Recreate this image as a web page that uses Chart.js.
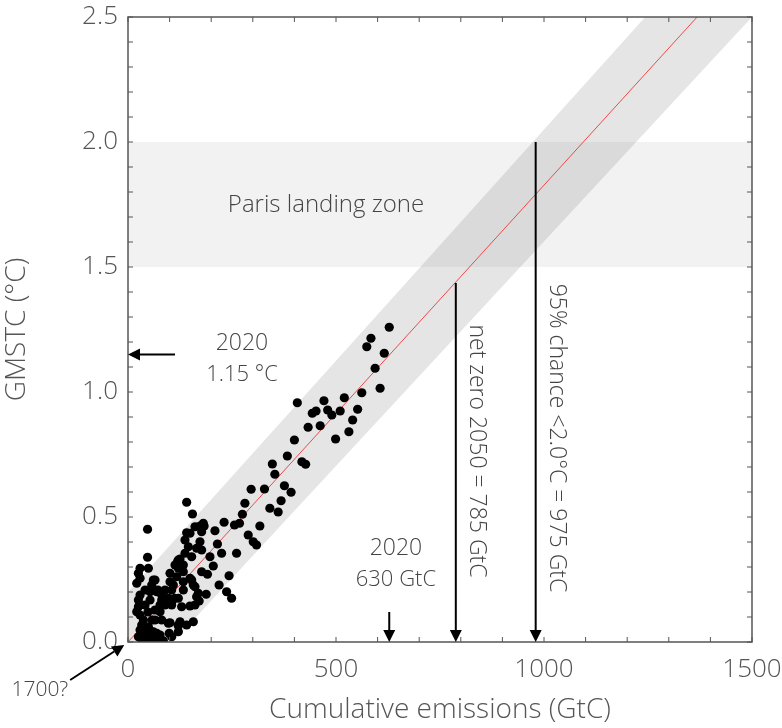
<!DOCTYPE html>
<html>
<head>
<meta charset="utf-8">
<script src="https://cdn.jsdelivr.net/npm/chart.js@4"></script>
<style>
  body { margin: 0; background: #fff; }
  #wrap { width: 782px; height: 728px; position: relative; }
</style>
</head>
<body>
<div id="wrap"><canvas id="myChart"></canvas></div>
<script>
// observed points: cumulative emissions (GtC) vs warming (°C)
const emissions = [628, 584, 574, 616, 594, 562, 606, 552, 520, 510, 540, 531, 499, 490, 480, 471, 452, 443, 462, 433,
  407, 400, 383, 418, 427, 347, 353, 376, 392, 328, 296, 368, 361, 341, 281, 275, 317, 256, 268, 231,
  209, 183, 177, 289, 301, 309, 215, 177, 225, 261, 197, 205, 191, 243, 219, 237, 249, 188, 141, 155,
  47, 47, 141, 149, 161, 173, 181, 137, 145, 137, 153, 165, 173, 121, 113, 133, 171, 161, 149, 129,
  105, 121, 97, 105, 101, 117, 125, 119, 125, 161, 153, 165, 125, 101, 121, 99, 77, 69, 61, 53,
  33, 61, 49, 37, 121, 133, 101, 65, 57, 41, 29, 25, 25, 21, 29, 37, 33, 29, 25, 37,
  49, 57, 65, 73, 85, 105, 65, 81, 97, 121, 77, 89, 105, 113, 81, 81, 69, 89, 109, 133,
  149, 157, 169, 157, 141, 121, 133, 177, 21, 29, 25, 29, 49, 61, 53,
  53, 65, 48, 77, 58, 41, 72];
const temps = [1.259, 1.215, 1.181, 1.155, 1.095, 0.997, 1.015, 0.931, 0.977, 0.924, 0.888, 0.841, 0.812, 0.908, 0.928, 0.965, 0.924, 0.915, 0.865, 0.859,
  0.957, 0.808, 0.744, 0.721, 0.711, 0.712, 0.671, 0.625, 0.599, 0.612, 0.611, 0.565, 0.520, 0.535, 0.555, 0.511, 0.464, 0.468, 0.475, 0.479,
  0.445, 0.464, 0.441, 0.428, 0.401, 0.388, 0.392, 0.368, 0.355, 0.355, 0.341, 0.304, 0.271, 0.265, 0.228, 0.201, 0.175, 0.191, 0.559, 0.512,
  0.451, 0.339, 0.437, 0.435, 0.461, 0.464, 0.475, 0.408, 0.381, 0.355, 0.341, 0.375, 0.401, 0.328, 0.308, 0.308, 0.164, 0.148, 0.144, 0.141,
  0.148, 0.175, 0.175, 0.208, 0.241, 0.261, 0.299, 0.321, 0.332, 0.221, 0.248, 0.181, 0.081, 0.077, 0.065, 0.035, 0.028, 0.035, 0.021, 0.008,
  0.008, 0.041, 0.061, 0.041, 0.295, 0.281, 0.275, 0.248, 0.228, 0.208, 0.188, 0.168, 0.141, 0.121, 0.108, 0.088, 0.068, 0.048, 0.021, 0.008,
  0.021, 0.041, 0.008, 0.028, 0.005, 0.021, 0.088, 0.088, 0.075, 0.068, 0.121, 0.148, 0.161, 0.175, 0.168, 0.188, 0.201, 0.208, 0.228, 0.241,
  0.255, 0.228, 0.195, 0.081, 0.068, 0.041, 0.208, 0.281, 0.235, 0.255, 0.275, 0.295, 0.295, 0.248, 0.201,
  0.168, 0.128, 0.120, 0.148, 0.088, 0.148, 0.208];

// best fit line and its uncertainty band
const trendX = [0, 1500];
const trendY = [0, 2.741];
const bandX = [0, 1500];
const bandUpper = [0.2, 2.975];
const bandLower = [-0.194, 2.5];

// Paris landing zone
const parisX = [0, 1500];
const parisLow = [1.5, 1.5];
const parisHigh = [2.0, 2.0];

// axis ticks
const xTicks = [0, 500, 1000, 1500];
const yTicks = [0, 0.5, 1.0, 1.5, 2.0, 2.5];

// arrows: start -> tip, in data units
const arrowFromX = [628, 788, 980, 113, -139];
const arrowFromY = [0.12, 1.436, 2.0, 1.15, -0.152];
const arrowToX = [628, 788, 980, 0, -9];
const arrowToY = [0.0, 0.0, 0.0, 1.15, -0.012];

// annotation texts
const noteText = ['Paris landing zone', '2020', '1.15 °C', '2020', '630 GtC',
  'net zero 2050 = 785 GtC', '95% chance <2.0°C = 975 GtC', '1700?'];
const noteX = [476, 274, 274, 644, 644, 839, 1031, -212];
const noteY = [1.748, 1.196, 1.068, 0.376, 0.248, 0.764, 0.816, -0.192];
const noteRot = [0, 0, 0, 0, 0, 90, 90, 0];
const noteSize = [24, 23, 22, 23, 22, 23, 23, 21];

const FONT = "'Open Sans', Lato, sans-serif";

const pts = (xs, ys) => xs.map((x, i) => ({x: x, y: ys[i]}));

const frame = {
  id: 'frame',
  afterDatasetsDraw(chart) {
    const c = chart.ctx, a = chart.chartArea;
    const xs = chart.scales.x, ys = chart.scales.y;
    c.save();
    c.strokeStyle = '#555';
    c.lineWidth = 1.5;
    c.strokeRect(a.left, a.top, a.right - a.left, a.bottom - a.top);
    c.lineWidth = 1;
    c.beginPath();
    for (let v = 0; v <= 1500.1; v += 100) {
      const px = xs.getPixelForValue(v);
      c.moveTo(px, a.bottom); c.lineTo(px, a.bottom - 5);
      c.moveTo(px, a.top); c.lineTo(px, a.top + 5);
    }
    for (let k = 0; k <= 25; k++) {
      const py = ys.getPixelForValue(k / 10);
      c.moveTo(a.left, py); c.lineTo(a.left + 5, py);
      c.moveTo(a.right, py); c.lineTo(a.right - 5, py);
    }
    c.stroke();

    // arrows
    c.strokeStyle = '#000';
    c.fillStyle = '#000';
    c.lineWidth = 2;
    arrowFromX.forEach((fx, i) => {
      const x0 = xs.getPixelForValue(fx), y0 = ys.getPixelForValue(arrowFromY[i]);
      const x1 = xs.getPixelForValue(arrowToX[i]), y1 = ys.getPixelForValue(arrowToY[i]);
      const ang = Math.atan2(y1 - y0, x1 - x0);
      const hl = 12, hw = 6;
      const bx = x1 - hl * Math.cos(ang), by = y1 - hl * Math.sin(ang);
      c.beginPath();
      c.moveTo(x0, y0); c.lineTo(bx, by);
      c.stroke();
      c.beginPath();
      c.moveTo(x1, y1);
      c.lineTo(bx + hw * Math.sin(ang), by - hw * Math.cos(ang));
      c.lineTo(bx - hw * Math.sin(ang), by + hw * Math.cos(ang));
      c.closePath();
      c.fill();
    });

    // text notes
    c.fillStyle = '#444';
    c.textAlign = 'center';
    c.textBaseline = 'middle';
    noteText.forEach((t, i) => {
      c.save();
      c.font = '300 ' + noteSize[i] + 'px ' + FONT;
      c.translate(xs.getPixelForValue(noteX[i]), ys.getPixelForValue(noteY[i]));
      c.rotate(noteRot[i] * Math.PI / 180);
      c.fillText(t, 0, 0);
      c.restore();
    });
    c.restore();
  }
};

document.addEventListener('DOMContentLoaded', () => {
  const ctx = document.getElementById('myChart');
  window.chart = new Chart(ctx, {
    type: 'scatter',
    data: {
      datasets: [{
        data: pts(emissions, temps),
        backgroundColor: '#000',
        borderWidth: 0,
        pointRadius: 4.6,
        order: 0
      }, {
        data: pts(trendX, trendY),
        showLine: true,
        borderColor: '#ee4848',
        borderWidth: 1,
        pointRadius: 0,
        order: 1
      }, {
        data: pts(bandX, bandUpper),
        showLine: true,
        borderWidth: 0,
        pointRadius: 0,
        fill: '+1',
        backgroundColor: 'rgba(0,0,0,0.1)',
        order: 2
      }, {
        data: pts(bandX, bandLower),
        showLine: true,
        borderWidth: 0,
        pointRadius: 0,
        order: 3
      }, {
        data: pts(parisX, parisHigh),
        showLine: true,
        borderWidth: 0,
        pointRadius: 0,
        fill: '+1',
        backgroundColor: 'rgba(0,0,0,0.05)',
        order: 4
      }, {
        data: pts(parisX, parisLow),
        showLine: true,
        borderWidth: 0,
        pointRadius: 0,
        order: 5
      }]
    },
    options: {
      maintainAspectRatio: false,
      responsive: true,
      animation: false,
      layout: { padding: { top: 17, right: 30, left: 0, bottom: 0 } },
      plugins: {
        legend: { display: false },
        tooltip: { enabled: false }
      },
      scales: {
        x: {
          type: 'linear',
          min: 0,
          max: 1500,
          afterBuildTicks: s => { s.ticks = xTicks.map(v => ({value: v})); },
          afterFit: s => { s.height = 86; s.paddingLeft = 0; s.paddingRight = 0; },
          grid: { display: false, drawTicks: false },
          border: { display: false },
          ticks: { color: '#555', font: { family: FONT, size: 26, weight: 300 }, padding: 12, maxRotation: 0,
            callback: v => String(v) },
          title: { display: true, text: 'Cumulative emissions (GtC)', color: '#555',
            font: { family: FONT, size: 28, weight: 300 }, padding: { top: 0, bottom: 1 } }
        },
        y: {
          type: 'linear',
          min: 0,
          max: 2.5,
          afterBuildTicks: s => { s.ticks = yTicks.map(v => ({value: v})); },
          afterFit: s => { s.width = 128; s.paddingTop = 0; s.paddingBottom = 0; },
          grid: { display: false, drawTicks: false },
          border: { display: false },
          ticks: { color: '#555', font: { family: FONT, size: 26, weight: 300 }, padding: 10,
            callback: v => v.toFixed(1) },
          title: { display: true, text: 'GMSTC (°C)', color: '#555',
            font: { family: FONT, size: 28, weight: 300 }, padding: { top: 0, bottom: 2 } }
        }
      }
    },
    plugins: [frame]
  });
});
</script>
</body>
</html>
